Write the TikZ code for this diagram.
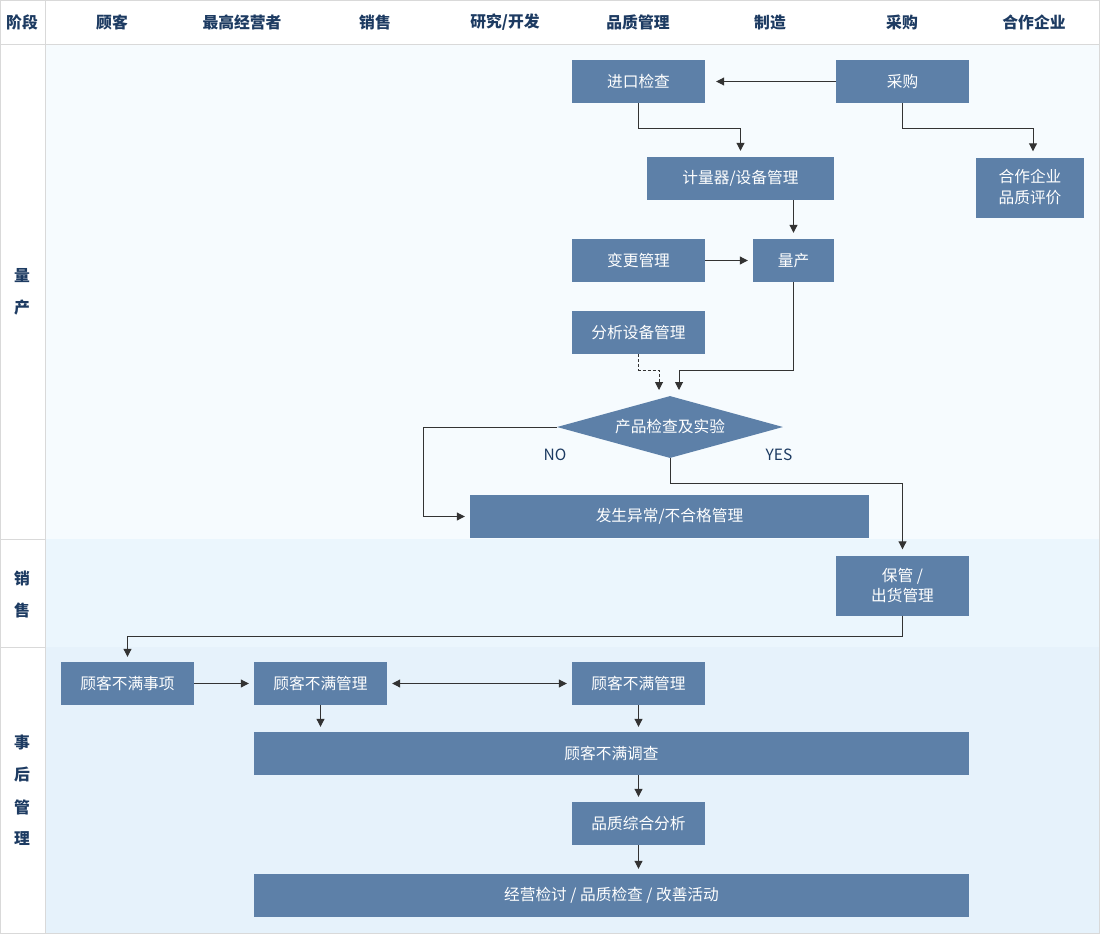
\documentclass[tikz,border=0pt]{standalone}
\usepackage{fontspec}
\setmainfont{Noto Sans CJK SC}
\usetikzlibrary{arrows.meta,shapes.geometric,calc}
\definecolor{boxc}{HTML}{5D80A8}
\definecolor{linec}{HTML}{333333}
\definecolor{navy}{HTML}{1D3B62}
\definecolor{gridc}{HTML}{D9D9D9}
\definecolor{bgA}{HTML}{F6FBFE}
\definecolor{bgB}{HTML}{EBF6FD}
\definecolor{bgC}{HTML}{E6F2FB}
\begin{document}
\begin{tikzpicture}[x=1pt,y=-1pt,
  box/.style={fill=boxc,text=white,inner sep=0pt,font=\fontsize{15.7}{20}\selectfont,align=center},
  head/.style={text=navy,inner sep=0pt,font=\fontsize{15.8}{18}\selectfont\bfseries},
  lbl/.style={text=navy,inner sep=0pt,font=\fontsize{15.5}{18}\selectfont},
  arr/.style={draw=linec,line width=1pt,-{Triangle[length=8pt,width=8pt]}},
  grid/.style={draw=gridc,line width=1pt}]
\useasboundingbox (0,0) rectangle (1100,934);
% backgrounds
\fill[white] (0,0) rectangle (1100,934);
\fill[bgA] (45,44) rectangle (1100,539);
\fill[bgB] (45,539) rectangle (1100,647);
\fill[bgC] (45,647) rectangle (1100,934);
% grid
\draw[grid] (0.5,0.5) rectangle (1099.5,933.5);
\draw[grid] (0,44.5) -- (1100,44.5);
\draw[grid] (45.5,0) -- (45.5,934);
\draw[grid] (0,539.5) -- (45,539.5);
\draw[grid] (0,647.5) -- (45,647.5);
% header
\node[head] (h0) at (22,22.5) {阶段};
\node[head] (h1) at (112,22.5) {顾客};
\node[head] (h2) at (242,22.5) {最高经营者};
\node[head] (h3) at (375,22.5) {销售};
\node[head] (h4) at (505,22.5) {研究/开发};
\node[head] (h5) at (638,22.5) {品质管理};
\node[head] (h6) at (770,22.5) {制造};
\node[head] (h7) at (902,22.5) {采购};
\node[head] (h8) at (1034,22.5) {合作企业};
% stage labels
\node[head] (s1) at (22,276) {量};
\node[head] (s2) at (22,308) {产};
\node[head] (s3) at (22,578) {销};
\node[head] (s4) at (22,610) {售};
\node[head] (s5) at (22,743) {事};
\node[head] (s6) at (22,775) {后};
\node[head] (s7) at (22,807) {管};
\node[head] (s8) at (22,839) {理};
% boxes
\node[box,minimum width=133pt,minimum height=43pt] (jk) at (638.5,81.5) {进口检查};
\node[box,minimum width=133pt,minimum height=43pt] (cg) at (902.5,81.5) {采购};
\node[box,minimum width=187pt,minimum height=43pt] (jl) at (740.5,178.5) {计量器/设备管理};
\node[box,minimum width=108pt,minimum height=60pt,font=\fontsize{15.7}{21}\selectfont] (hz) at (1030,187.5) {合作企业\\品质评价};
\node[box,minimum width=133pt,minimum height=43pt] (bg) at (638.5,260.5) {变更管理};
\node[box,minimum width=81pt,minimum height=43pt] (lc) at (793.5,260.5) {量产};
\node[box,minimum width=133pt,minimum height=43pt] (fx) at (638.5,332.5) {分析设备管理};
\node[box,diamond,minimum width=226pt,minimum height=62pt,aspect=3.6] (dm) at (670,427) {产品检查及实验};
\node[box,minimum width=399pt,minimum height=43pt] (yc) at (669.5,516.5) {发生异常/不合格管理};
\node[box,minimum width=133pt,minimum height=60pt] (bc) at (902.5,585.5) {保管 /\\出货管理};
\node[box,minimum width=133pt,minimum height=43pt] (k1) at (127.5,683.5) {顾客不满事项};
\node[box,minimum width=133pt,minimum height=43pt] (k2) at (320.5,683.5) {顾客不满管理};
\node[box,minimum width=133pt,minimum height=43pt] (k3) at (638.5,683.5) {顾客不满管理};
\node[box,minimum width=715pt,minimum height=43pt] (dc) at (611.5,753.5) {顾客不满调查};
\node[box,minimum width=133pt,minimum height=43pt] (pz) at (638.5,823.5) {品质综合分析};
\node[box,minimum width=715pt,minimum height=43pt] (jy) at (611.5,895.5) {经营检讨 / 品质检查 / 改善活动};
% labels
\node[lbl] (no) at (555,454.5) {NO};
\node[lbl] (yes) at (779,454.5) {YES};
% coordinates
\coordinate (p1) at (679,370);
\coordinate (p1e) at (679,390);
\coordinate (p2) at (659,370);
\coordinate (p2e) at (659,390);
\coordinate (p3) at (423,427);
% connectors
\draw[arr,shorten >=11pt] (cg.west) -- (jk.east);
\draw[arr,shorten >=6pt] (jk.south) -- ++(0,25) -| (jl.north);
\draw[arr,shorten >=6pt] (cg.south) -- ++(0,25) -| ([xshift=3pt]hz.north);
\draw[arr,shorten >=6pt] (lc.north |- jl.south) -- (lc.north);
\draw[arr,shorten >=5pt] (bg.east) -- (lc.west);
\draw[arr] (lc.south) |- (p1) -- (p1e);
\draw[arr,dash pattern=on 3pt off 2pt] (fx.south) |- (p2) -- (p2e);
\draw[arr,shorten >=5pt] (dm.west) -- (p3) |- (yc.west);
\draw[arr,shorten >=6pt] (dm.south) -- ++(0,25) -| (bc.north);
\draw[arr,shorten >=5pt] (bc.south) -- ++(0,21) -| (k1.north);
\draw[arr,shorten >=5pt] (k1.east) -- (k2.west);
\draw[draw=linec,line width=1pt,{Triangle[length=8pt,width=8pt]}-{Triangle[length=8pt,width=8pt]},shorten >=5pt,shorten <=5pt] (k2.east) -- (k3.west);
\draw[arr,shorten >=5pt] (k2.south) -- (k2.south |- dc.north);
\draw[arr,shorten >=5pt] (k3.south) -- (k3.south |- dc.north);
\draw[arr,shorten >=5pt] (pz.north |- dc.south) -- (pz.north);
\draw[arr,shorten >=5pt] (pz.south) -- (pz.south |- jy.north);
\end{tikzpicture}
\end{document}
